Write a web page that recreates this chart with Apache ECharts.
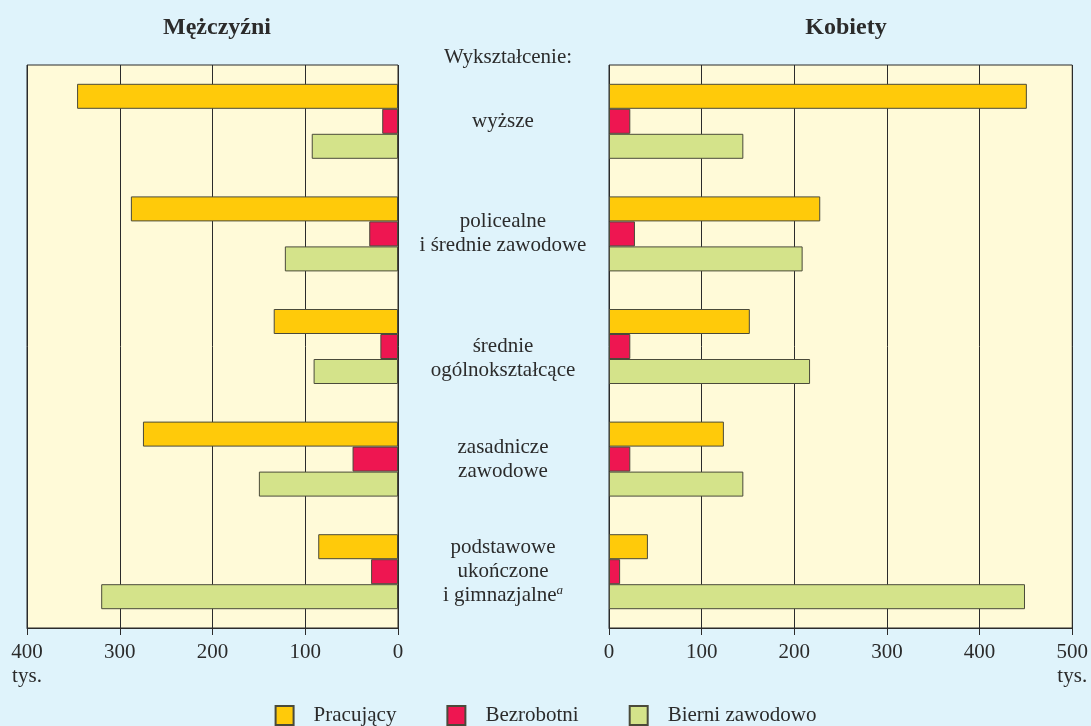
<!DOCTYPE html>
<html>
<head>
<meta charset="utf-8">
<script src="https://cdn.jsdelivr.net/npm/echarts@6/dist/echarts.min.js"></script>
<style>
    html, body { margin: 0; padding: 0; background: #dff3fb; }
    #chart { width: 1091px; height: 726px; }
</style>
</head>
<body>
<div id="chart"></div>
<script>
// poziom wykształcenia (od góry)
var categories = ['wyższe', 'policealne\ni średnie zawodowe', 'średnie\nogólnokształcące', 'zasadnicze\nzawodowe', 'podstawowe\nukończone\ni gimnazjalne'];
var seriesNames = ['Pracujący', 'Bezrobotni', 'Bierni zawodowo'];

// Mężczyźni, tys.
var menWorking = [346, 288, 134, 275, 86];
var menUnemployed = [17, 31, 19, 49, 29];
var menInactive = [93, 122, 91, 150, 320];

// Kobiety, tys.
var womenWorking = [451, 228, 152, 124, 42];
var womenUnemployed = [23, 28, 23, 23, 12];
var womenInactive = [145, 209, 217, 145, 449];

var colors = ['#ffca0a', '#ee1651', '#d4e38a'];
var font = '"Liberation Serif", "DejaVu Serif", serif';
var ink = '#2b2b2b';

var chart = echarts.init(document.getElementById('chart'));

function xAxisFor(gridIndex, max, inverse) {
    return {
        type: 'value',
        gridIndex: gridIndex,
        min: 0,
        max: max,
        interval: 100,
        inverse: inverse,
        axisLine: { show: true, lineStyle: { color: ink, width: 1 } },
        axisTick: { show: true, length: 7, lineStyle: { color: ink } },
        splitLine: { show: true, lineStyle: { color: ink, width: 1 } },
        axisLabel: {
            margin: 12,
            color: ink,
            fontFamily: font,
            fontSize: 21,
            lineHeight: 24,
            formatter: function (v) {
                return v === max ? v + '\ntys.' : String(v);
            }
        }
    };
}

function yAxisFor(gridIndex, showLabels) {
    return {
        type: 'category',
        gridIndex: gridIndex,
        data: categories,
        inverse: true,
        position: 'right',
        axisLine: { show: false },
        axisTick: { show: false },
        splitLine: { show: false },
        axisLabel: {
            show: showLabels,
            margin: 105,
            align: 'center',
            color: ink,
            fontFamily: font,
            fontSize: 21,
            lineHeight: 24,
            formatter: function (v, i) {
                if (i === 2) return '\n' + v;
                if (i === 4) return v + '{sup|a}';
                return v;
            },
            rich: {
                sup: { fontSize: 13, fontStyle: 'italic', verticalAlign: 'top', fontFamily: font, color: ink, lineHeight: 16 }
            }
        }
    };
}

function barSeries(name, data, idx, gridIdx) {
    return {
        name: name,
        type: 'bar',
        xAxisIndex: gridIdx,
        yAxisIndex: gridIdx,
        data: data,
        barWidth: 25,
        barGap: '0%',
        itemStyle: { color: colors[idx], borderColor: '#4a4a3a', borderWidth: 1 }
    };
}

chart.setOption({
    backgroundColor: '#dff3fb',
    animation: false,
    title: [{
        text: 'Mężczyźni',
        left: 212,
        top: 11,
        textAlign: 'center',
        textStyle: { fontFamily: font, fontSize: 24, fontWeight: 'bold', color: ink }
    }, {
        text: 'Kobiety',
        left: 841,
        top: 11,
        textAlign: 'center',
        textStyle: { fontFamily: font, fontSize: 24, fontWeight: 'bold', color: ink }
    }, {
        text: 'Wykształcenie:',
        left: 503,
        top: 42,
        textAlign: 'center',
        textStyle: { fontFamily: font, fontSize: 21, fontWeight: 'normal', color: ink }
    }],
    legend: {
        data: seriesNames,
        top: 700,
        left: 'center',
        icon: 'rect',
        itemWidth: 18,
        itemHeight: 19,
        itemGap: 50,
        textStyle: { fontFamily: font, fontSize: 21, color: ink, padding: [0, 0, 0, 15] }
    },
    grid: [{
        left: 27, right: 693, top: 65, bottom: 98,
        show: true, backgroundColor: '#fffad8', borderColor: ink, borderWidth: 1
    }, {
        left: 609, right: 18, top: 65, bottom: 98,
        show: true, backgroundColor: '#fffad8', borderColor: ink, borderWidth: 1
    }],
    xAxis: [xAxisFor(0, 400, true), xAxisFor(1, 500, false)],
    yAxis: [yAxisFor(0, true), yAxisFor(1, false)],
    series: [
        barSeries(seriesNames[0], menWorking, 0, 0),
        barSeries(seriesNames[1], menUnemployed, 1, 0),
        barSeries(seriesNames[2], menInactive, 2, 0),
        barSeries(seriesNames[0], womenWorking, 0, 1),
        barSeries(seriesNames[1], womenUnemployed, 1, 1),
        barSeries(seriesNames[2], womenInactive, 2, 1)
    ]
});
</script>
</body>
</html>
